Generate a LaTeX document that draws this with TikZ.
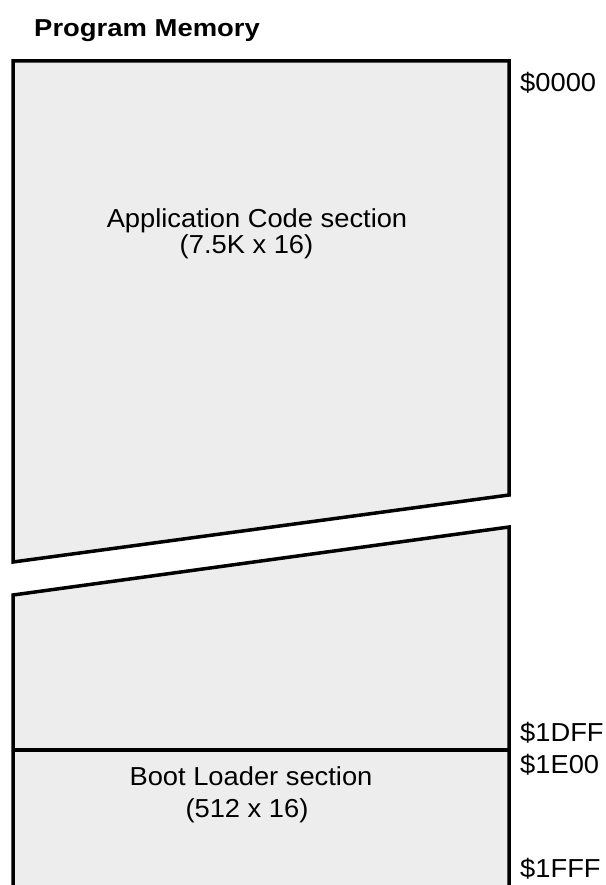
\documentclass[tikz,border=0pt]{standalone}
\usepackage{fontspec}
\setmainfont{Liberation Sans}
\definecolor{memfill}{HTML}{EDEDED}
\tikzset{
  memedge/.style={line width=3.5pt, line join=miter, draw=black},
  lbl/.style={inner sep=0pt, font=\fontsize{26}{26}\selectfont, xscale=1.05},
  addr/.style={lbl, anchor=base west},
  ttl/.style={inner sep=0pt, anchor=base west, font=\fontsize{24.5}{24.5}\selectfont\bfseries, xscale=1.12},
}
\begin{document}
\begin{tikzpicture}[x=1pt,y=-1pt]
\useasboundingbox (0,0) rectangle (605,885);
\clip (0,0) rectangle (605,885);
% upper part
\filldraw[memedge, fill=memfill] (13,61) -- (509,61) -- (509,495) -- (13,562) -- cycle;
% lower part
\fill[memfill] (13,595) -- (509,527) -- (509,900) -- (13,900) -- cycle;
\draw[memedge] (13,900) -- (13,595) -- (509,527) -- (509,900);
\draw[memedge] (13,750) -- (509,750);
% texts
\node[ttl] (title) at (34,37) {Program Memory};
\node[addr] (a0) at (520,92) {\$0000};
\node[addr] (a1) at (520,741) {\$1DFF};
\node[addr] (a2) at (520,773) {\$1E00};
\node[addr] (a3) at (520,877) {\$1FFF};
\node[lbl, anchor=base] (app1) at (257,227) {Application Code section};
\node[lbl, anchor=base] (app2) at (246.5,253) {(7.5K x 16)};
\node[lbl, anchor=base] (boot1) at (251,785) {Boot Loader section};
\node[lbl, anchor=base] (boot2) at (247,817) {(512 x 16)};
\end{tikzpicture}
\end{document}
